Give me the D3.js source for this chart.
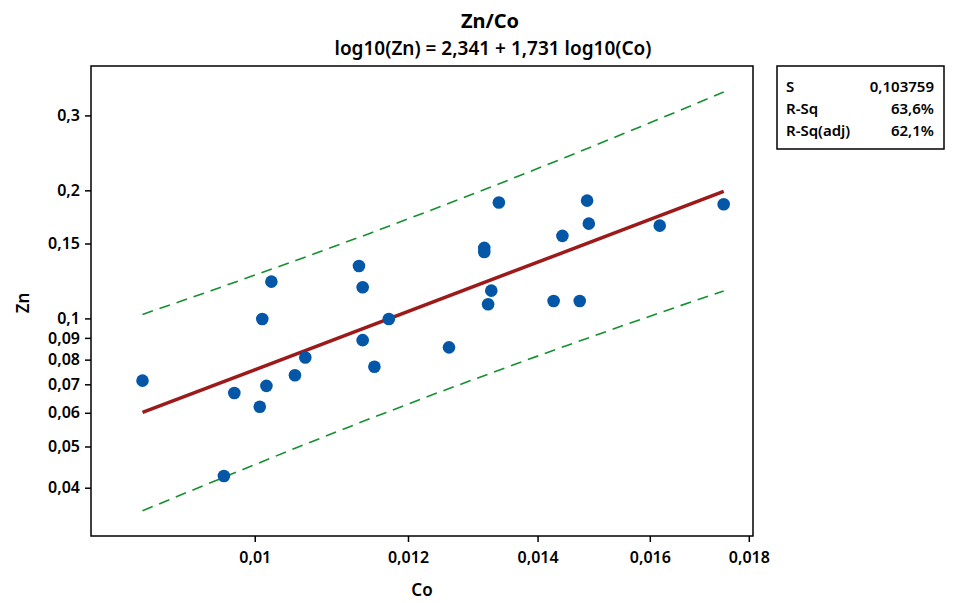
<!DOCTYPE html>
<html>
<head>
<meta charset="utf-8">
<script src="https://cdn.jsdelivr.net/npm/d3@7"></script>
<style>
  body { margin: 0; background: #fff; }
  svg text { font-family: "Noto Sans", "Open Sans", sans-serif; fill: #000; }
</style>
</head>
<body>
<svg id="chart" width="976" height="603"></svg>
<script>
// observed points (Co, Zn)
var co = [0.00875, 0.00964, 0.00976, 0.01006, 0.01009, 0.01014, 0.01020, 0.01049, 0.01062,
          0.01132, 0.01137, 0.01137, 0.01153, 0.01173, 0.01260, 0.01314, 0.01314, 0.01320,
          0.01325, 0.01337, 0.01427, 0.01442, 0.01472, 0.01485, 0.01488, 0.01619, 0.01747];
var zn = [0.0714, 0.0426, 0.0668, 0.0620, 0.0997, 0.0694, 0.1220, 0.0735, 0.0809,
          0.1328, 0.1184, 0.0889, 0.0770, 0.0997, 0.0855, 0.1465, 0.1433, 0.1080,
          0.1162, 0.1872, 0.1099, 0.1563, 0.1099, 0.1892, 0.1670, 0.1652, 0.1855];

// fitted line ends
var fitCo = [0.00875, 0.01747];
var fitZn = [0.0601, 0.1988];

// 95% prediction band
var piCo    = [0.00875, 0.0095, 0.0105, 0.0115, 0.0125, 0.0135, 0.0145, 0.0155, 0.0165, 0.01747];
var piUpper = [0.1022, 0.1163, 0.1368, 0.1592, 0.1839, 0.2107, 0.2399, 0.2715, 0.3054, 0.3406];
var piLower = [0.0353, 0.0412, 0.0496, 0.0584, 0.0675, 0.0768, 0.0864, 0.0962, 0.1062, 0.1160];

var xTicks = [0.01, 0.012, 0.014, 0.016, 0.018];
var yTicks = [0.04, 0.05, 0.06, 0.07, 0.08, 0.09, 0.1, 0.15, 0.2, 0.3];

var statLabels = ["S", "R-Sq", "R-Sq(adj)"];
var statValues = ["0,103759", "63,6%", "62,1%"];

var svg = d3.select("#chart"),
    margin = { top: 66, right: 223, bottom: 67, left: 91 },
    width = +svg.attr("width") - margin.left - margin.right,
    height = +svg.attr("height") - margin.top - margin.bottom,
    g = svg.append("g").attr("transform", "translate(" + margin.left + "," + margin.top + ")");

var x = d3.scaleLog().domain([0.00823, 0.01809]).range([0, width]);
var y = d3.scaleLog().domain([0.0308, 0.392]).range([height, 0]);

function comma(d) { return String(d).replace(".", ","); }

// axes
var xAxis = g.append("g")
    .attr("transform", "translate(0," + height + ")")
    .call(d3.axisBottom(x).tickValues(xTicks).tickFormat(comma).tickSize(6).tickSizeOuter(0));
var yAxis = g.append("g")
    .call(d3.axisLeft(y).tickValues(yTicks).tickFormat(comma).tickSize(6).tickSizeOuter(0));

[xAxis, yAxis].forEach(function (a) {
    a.select(".domain").remove();
    a.selectAll(".tick line").attr("stroke", "#000").attr("stroke-width", 1.5);
    a.selectAll(".tick text")
        .style("font-size", "16px")
        .style("font-weight", "600")
        .attr("fill", "#000");
});
xAxis.selectAll(".tick text").attr("dy", "1.15em");
yAxis.selectAll(".tick text").attr("x", -11);

// frame
g.append("rect")
    .attr("width", width)
    .attr("height", height)
    .attr("fill", "none")
    .attr("stroke", "#000")
    .attr("stroke-width", 1.5);

// prediction band
var band = d3.line()
    .x(function (d) { return x(d[0]); })
    .y(function (d) { return y(d[1]); });

[piUpper, piLower].forEach(function (s) {
    g.append("path")
        .datum(piCo.map(function (c, i) { return [c, s[i]]; }))
        .attr("d", band)
        .attr("fill", "none")
        .attr("stroke", "#15902f")
        .attr("stroke-width", 1.6)
        .attr("stroke-dasharray", "11,7");
});

// fitted line
g.append("path")
    .datum(fitCo.map(function (c, i) { return [c, fitZn[i]]; }))
    .attr("d", band)
    .attr("fill", "none")
    .attr("stroke", "#9c1a1a")
    .attr("stroke-width", 3.5);

// points
g.selectAll(".dot")
    .data(co.map(function (c, i) { return { co: c, zn: zn[i] }; }))
    .enter().append("circle")
    .attr("class", "dot")
    .attr("cx", function (d) { return x(d.co); })
    .attr("cy", function (d) { return y(d.zn); })
    .attr("r", 6.3)
    .attr("fill", "#0456a6");

// titles (centred on the whole graph)
svg.append("text")
    .attr("x", 490)
    .attr("y", 28)
    .attr("text-anchor", "middle")
    .style("font-size", "20px")
    .style("font-weight", "700")
    .text("Zn/Co");

svg.append("text")
    .attr("x", 493)
    .attr("y", 55)
    .attr("text-anchor", "middle")
    .style("font-size", "19px")
    .style("font-weight", "600")
    .text("log10(Zn) = 2,341 + 1,731 log10(Co)");

svg.append("text")
    .attr("x", margin.left + width / 2)
    .attr("y", 596)
    .attr("text-anchor", "middle")
    .style("font-size", "17px")
    .style("font-weight", "600")
    .text("Co");

svg.append("text")
    .attr("transform", "rotate(-90)")
    .attr("x", -303)
    .attr("y", 29)
    .attr("text-anchor", "middle")
    .style("font-size", "17px")
    .style("font-weight", "600")
    .text("Zn");

// stats box
var box = svg.append("g").attr("transform", "translate(777,66)");
box.append("rect")
    .attr("width", 167)
    .attr("height", 83)
    .attr("fill", "#fff")
    .attr("stroke", "#000")
    .attr("stroke-width", 1.5);
statLabels.forEach(function (s, i) {
    box.append("text")
        .attr("x", 9)
        .attr("y", 25.5 + i * 22)
        .style("font-size", "15px")
        .style("font-weight", "600")
        .text(s);
    box.append("text")
        .attr("x", 157)
        .attr("y", 25.5 + i * 22)
        .attr("text-anchor", "end")
        .style("font-size", "15px")
        .style("font-weight", "600")
        .text(statValues[i]);
});
</script>
</body>
</html>
